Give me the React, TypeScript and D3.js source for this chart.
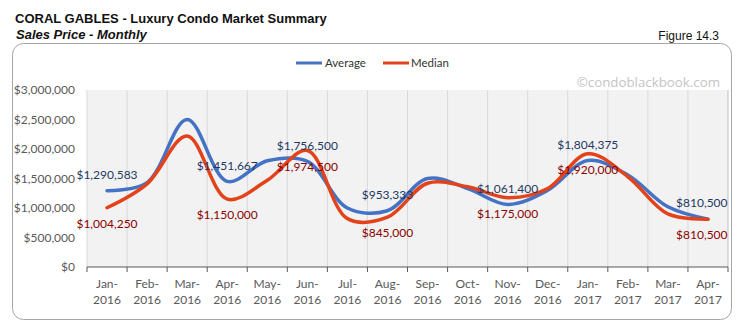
import React from "react";
import * as d3 from "d3";

const months = ["Jan-", "Feb-", "Mar-", "Apr-", "May-", "Jun-", "Jul-", "Aug-", "Sep-", "Oct-", "Nov-", "Dec-", "Jan-", "Feb-", "Mar-", "Apr-"];
const years = ["2016", "2016", "2016", "2016", "2016", "2016", "2016", "2016", "2016", "2016", "2016", "2016", "2017", "2017", "2017", "2017"];
const averageValues = [1290583, 1430000, 2500000, 1451667, 1800000, 1790000, 1000000, 953333, 1500000, 1330000, 1061400, 1300000, 1804375, 1560000, 1020000, 810500];
const medianValues = [1004250, 1410000, 2220000, 1150000, 1470000, 1974500, 820000, 845000, 1420000, 1360000, 1175000, 1330000, 1920000, 1530000, 900000, 810500];
const labelIndices = [0, 3, 5, 7, 10, 12, 15];
const averageLabels = ["$1,290,583", "$1,451,667", "$1,756,500", "$953,333", "$1,061,400", "$1,804,375", "$810,500"];
const medianLabels = ["$1,004,250", "$1,150,000", "$1,974,500", "$845,000", "$1,175,000", "$1,920,000", "$810,500"];
const yTicks = [0, 500000, 1000000, 1500000, 2000000, 2500000, 3000000];

const W = 743;
const H = 335;
const left = 87;
const right = 728;
const top = 90;
const bottom = 267;

const BLUE = "#4472c4";
const RED = "#e2431b";
const AXIS_FONT = "Lato, 'Open Sans', sans-serif";

export default function App() {
  const idx = d3.range(months.length);
  const x = d3.scaleBand<number>().domain(idx).range([left, right]).paddingInner(0).paddingOuter(0);
  const cx = (i: number) => (x(i) as number) + x.bandwidth() / 2;
  const y = d3.scaleLinear().domain([0, 3000000]).range([bottom, top]);
  const line = d3
    .line<number>()
    .x((_, i) => cx(i))
    .y((d) => y(d))
    .curve(d3.curveCatmullRom.alpha(0.5));
  const fmt = (v: number) => "$" + d3.format(",")(v);
  const boundaries = d3.range(months.length + 1).map((i) => left + i * x.bandwidth());
  const labelX = (i: number, s: string) => Math.min(cx(i), right - 1 - s.length * 3.15);

  return (
    <svg width={W} height={H} style={{ position: "absolute", left: 0, top: 0, background: "#fff" }}>
      <text x={15} y={23} fontFamily="'Liberation Sans', Arial, sans-serif" fontWeight="bold" fontSize={13} fill="#111">
        CORAL GABLES - Luxury Condo Market Summary
      </text>
      <text x={16} y={39} fontFamily="'Liberation Sans', Arial, sans-serif" fontWeight="bold" fontStyle="italic" fontSize={13} fill="#111">
        Sales Price - Monthly
      </text>
      <text x={719} y={40} textAnchor="end" fontFamily="'Liberation Sans', Arial, sans-serif" fontSize={12} fill="#111">
        Figure 14.3
      </text>
      <rect x={12.5} y={43.5} width={719} height={276} rx={11} ry={11} fill="#fff" stroke="#a6a6a6" strokeWidth={1} />

      <line x1={296} x2={322} y1={63} y2={63} stroke={BLUE} strokeWidth={3} />
      <text x={325} y={67} fontFamily={AXIS_FONT} fontSize={11.5} fill="#333">Average</text>
      <line x1={383} x2={409} y1={63} y2={63} stroke={RED} strokeWidth={3} />
      <text x={411} y={67} fontFamily={AXIS_FONT} fontSize={11.5} fill="#333">Median</text>

      <text x={720} y={87} textAnchor="end" fontFamily="'Open Sans', sans-serif" fontSize={13.3} fill="#c4c4c4">
        ©condoblackbook.com
      </text>

      <rect x={left} y={top} width={right - left} height={bottom - top} fill="#f2f2f2" />
      {boundaries.map((b, i) => (
        <line key={"g" + i} x1={b} x2={b} y1={top} y2={bottom} stroke={i === boundaries.length - 1 ? "#bfbfbf" : "#d9d9d9"} strokeWidth={1} />
      ))}
      <line x1={left} x2={right} y1={bottom} y2={bottom} stroke="#595959" strokeWidth={1} />
      {boundaries.map((b, i) => (
        <line key={"t" + i} x1={b} x2={b} y1={bottom} y2={bottom + 5} stroke="#595959" strokeWidth={1} />
      ))}

      {yTicks.map((t) => (
        <text key={"y" + t} x={75} y={y(t)} dy="0.35em" textAnchor="end" fontFamily={AXIS_FONT} fontSize={12} fill="#595959">
          {fmt(t)}
        </text>
      ))}
      {idx.map((i) => (
        <text key={"x" + i} x={cx(i)} textAnchor="middle" fontFamily={AXIS_FONT} fontSize={12} fill="#595959">
          <tspan x={cx(i)} y={288}>{months[i]}</tspan>
          <tspan x={cx(i)} y={304}>{years[i]}</tspan>
        </text>
      ))}

      <path d={line(averageValues) || ""} fill="none" stroke={BLUE} strokeWidth={3.5} strokeLinecap="round" />
      <path d={line(medianValues) || ""} fill="none" stroke={RED} strokeWidth={3.5} strokeLinecap="round" />

      {labelIndices.map((i, k) => (
        <text key={"la" + i} x={labelX(i, averageLabels[k])} y={y(averageValues[i]) - 16} dy="0.35em" textAnchor="middle" fontFamily={AXIS_FONT} fontSize={12} fill="#1f3864">
          {averageLabels[k]}
        </text>
      ))}
      {labelIndices.map((i, k) => (
        <text key={"lm" + i} x={labelX(i, medianLabels[k])} y={y(medianValues[i]) + 16} dy="0.35em" textAnchor="middle" fontFamily={AXIS_FONT} fontSize={12} fill="#8b0000">
          {medianLabels[k]}
        </text>
      ))}
    </svg>
  );
}
